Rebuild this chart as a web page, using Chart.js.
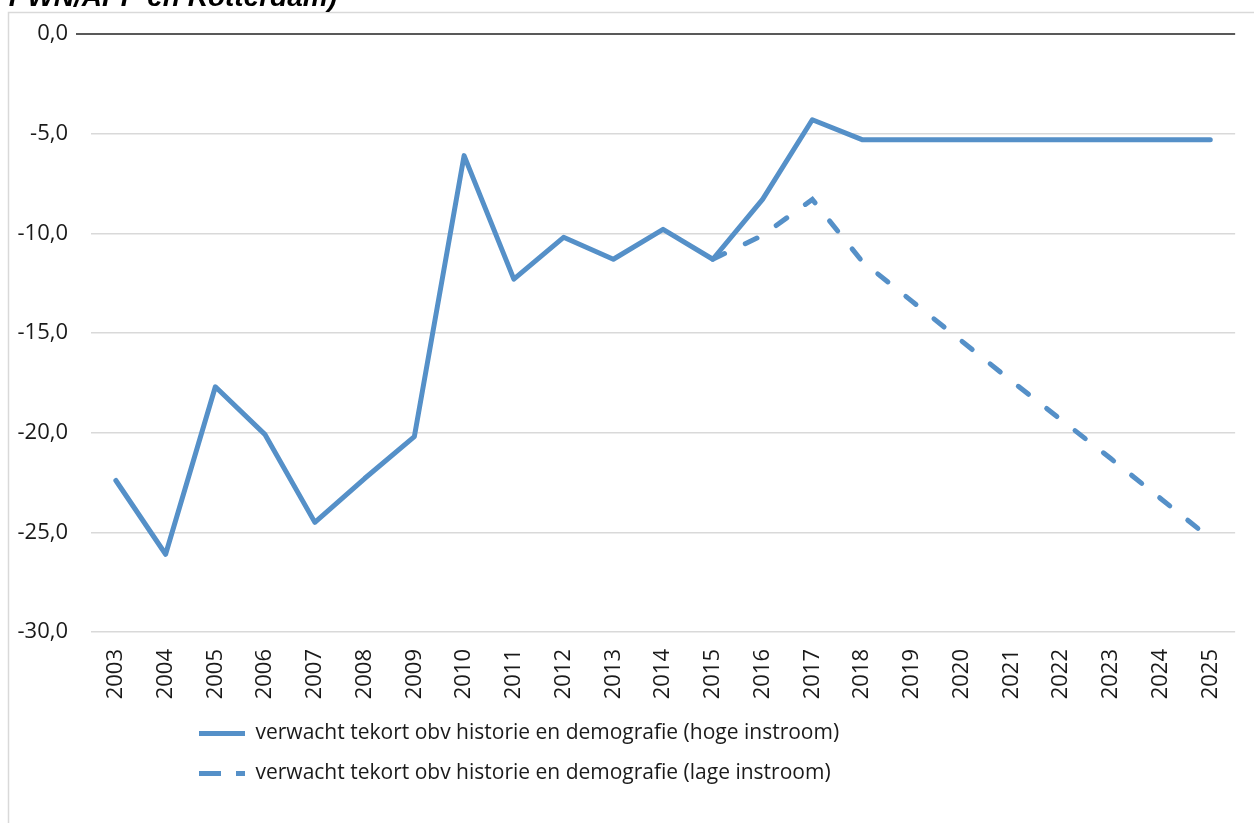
<!DOCTYPE html>
<html>
<head>
<meta charset="utf-8">
<script src="https://cdn.jsdelivr.net/npm/chart.js@4.4.1/dist/chart.umd.min.js"></script>
<style>
  html, body { margin: 0; padding: 0; background: #fff; }
</style>
</head>
<body>
<canvas id="chart" width="1254" height="823"></canvas>
<script>
  const years = ["2003", "2004", "2005", "2006", "2007", "2008", "2009", "2010", "2011", "2012", "2013", "2014",
    "2015", "2016", "2017", "2018", "2019", "2020", "2021", "2022", "2023", "2024", "2025"];

  // verwacht tekort (hoge instroom)
  const hogeInstroom = [-22.4, -26.1, -17.7, -20.1, -24.5, -22.3, -20.2, -6.1, -12.3, -10.2, -11.3, -9.8,
    -11.3, -8.3, -4.3, -5.3, -5.3, -5.3, -5.3, -5.3, -5.3, -5.3, -5.3];

  // verwacht tekort (lage instroom), begint in 2015
  const lageInstroom = [null, null, null, null, null, null, null, null, null, null, null, null,
    -11.3, -10.1, -8.3, -11.4, -13.4, -15.4, -17.4, -19.35, -21.3, -23.3, -25.3];

  const seriesNames = [
    "verwacht tekort obv historie en demografie (hoge instroom)",
    "verwacht tekort obv historie en demografie (lage instroom)"
  ];
  const titleText = "PWN/APP en Rotterdam)";

  const lineColor = "#5590c8";
  const textColor = "#1a1a1a";
  const fontFamily = "'Open Sans', sans-serif";

  // grijze kader en (afgesneden) titel
  const framePlugin = {
    id: "frame",
    beforeDraw(chart) {
      const ctx = chart.ctx;
      ctx.save();
      ctx.strokeStyle = "#d9d9d9";
      ctx.lineWidth = 1.5;
      ctx.beginPath();
      ctx.moveTo(8.5, 830);
      ctx.lineTo(8.5, 12.5);
      ctx.lineTo(1260, 12.5);
      ctx.stroke();
      ctx.fillStyle = "#000";
      ctx.font = "bold italic 28px 'Liberation Sans', Arial, sans-serif";
      ctx.textAlign = "right";
      ctx.textBaseline = "alphabetic";
      ctx.fillText(titleText, 337, 6);
      ctx.restore();
    },
    afterLayout(chart) {
      chart.legend.left = 180;
    }
  };

  const ctx = document.getElementById("chart").getContext("2d");
  new Chart(ctx, {
    type: "line",
    data: {
      labels: years,
      datasets: [
        {
          label: seriesNames[0],
          data: hogeInstroom,
          borderColor: lineColor,
          backgroundColor: lineColor,
          borderWidth: 5,
          borderJoinStyle: "round",
          borderCapStyle: "round",
          pointRadius: 0,
          tension: 0
        },
        {
          label: seriesNames[1],
          data: lageInstroom,
          borderColor: lineColor,
          backgroundColor: lineColor,
          borderWidth: 5,
          borderDash: [13, 23],
          borderCapStyle: "round",
          pointRadius: 0,
          tension: 0
        }
      ]
    },
    options: {
      responsive: false,
      animation: false,
      layout: {
        padding: { top: 34, right: 15, bottom: 29, left: 0 }
      },
      plugins: {
        tooltip: { enabled: false },
        title: { display: false },
        legend: {
          display: true,
          position: "bottom",
          align: "start",
          labels: {
            usePointStyle: true,
            pointStyle: "line",
            pointStyleWidth: 46,
            boxWidth: 46,
            padding: 19,
            color: textColor,
            font: { family: fontFamily, size: 21 },
            generateLabels(chart) {
              const items = Chart.defaults.plugins.legend.labels.generateLabels(chart);
              return items.map((item, i) => {
                item.lineDash = chart.data.datasets[i].borderDash ? [22, 15] : [];
                item.lineCap = "butt";
                item.lineWidth = 5;
                return item;
              });
            }
          }
        }
      },
      scales: {
        x: {
          offset: true,
          grid: { display: false, drawTicks: false },
          border: { display: false },
          ticks: {
            autoSkip: false,
            maxRotation: 90,
            minRotation: 90,
            padding: 17,
            color: textColor,
            font: { family: fontFamily, size: 22 }
          },
          afterFit(scale) {
            scale.height = 72;
          }
        },
        y: {
          min: -30,
          max: 0,
          border: { display: false },
          grid: {
            color: c => c.tick.value === 0 ? "#595959" : "#d9d9d9",
            lineWidth: c => c.tick.value === 0 ? 2 : 1.5,
            tickColor: c => c.tick.value === 0 ? "#595959" : "rgba(0,0,0,0)",
            tickLength: 15
          },
          ticks: {
            stepSize: 5,
            padding: 8,
            color: textColor,
            font: { family: fontFamily, size: 22 },
            callback: v => (v === 0 ? "0,0" : v.toFixed(1).replace(".", ","))
          },
          afterFit(scale) {
            scale.width = 91;
          }
        }
      }
    },
    plugins: [framePlugin]
  });
</script>
</body>
</html>
